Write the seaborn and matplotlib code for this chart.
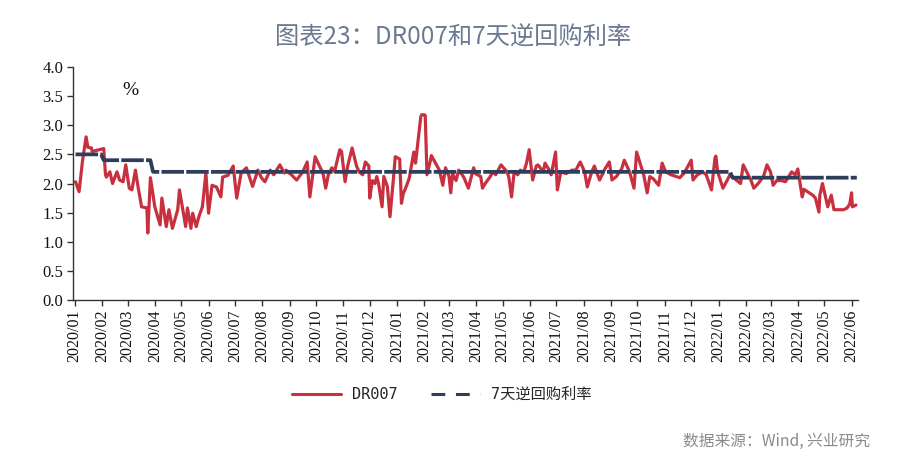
import numpy as np
import pandas as pd
import matplotlib
matplotlib.use("Agg")
import matplotlib.pyplot as plt
import matplotlib.dates as mdates
import seaborn as sns

# ---------------- data ----------------
dr_dates = [
    "2020-01-02", "2020-01-06", "2020-01-10", "2020-01-14", "2020-01-16", "2020-01-20", "2020-01-21",
    "2020-02-03", "2020-02-05", "2020-02-06", "2020-02-10", "2020-02-13", "2020-02-18", "2020-02-21",
    "2020-02-25", "2020-02-28", "2020-03-03", "2020-03-06", "2020-03-10", "2020-03-13", "2020-03-17",
    "2020-03-23", "2020-03-24", "2020-03-27", "2020-04-01", "2020-04-07", "2020-04-09", "2020-04-14",
    "2020-04-17", "2020-04-21", "2020-04-27", "2020-04-29", "2020-05-06", "2020-05-08", "2020-05-12",
    "2020-05-14", "2020-05-18", "2020-05-21", "2020-05-25", "2020-05-29", "2020-06-01", "2020-06-05",
    "2020-06-10", "2020-06-15", "2020-06-17", "2020-06-23", "2020-06-29", "2020-07-03", "2020-07-08",
    "2020-07-14", "2020-07-21", "2020-07-27", "2020-07-31", "2020-08-04", "2020-08-10", "2020-08-14",
    "2020-08-21", "2020-08-26", "2020-08-28", "2020-09-03", "2020-09-09", "2020-09-16", "2020-09-21",
    "2020-09-24", "2020-09-30", "2020-10-09", "2020-10-12", "2020-10-15", "2020-10-19", "2020-10-22",
    "2020-10-28", "2020-10-30", "2020-11-03", "2020-11-06", "2020-11-11", "2020-11-16", "2020-11-19",
    "2020-11-23", "2020-11-26", "2020-11-30", "2020-12-01", "2020-12-04", "2020-12-07", "2020-12-09",
    "2020-12-11", "2020-12-15", "2020-12-17", "2020-12-21", "2020-12-24", "2020-12-28", "2020-12-30",
    "2021-01-04", "2021-01-06", "2021-01-08", "2021-01-12", "2021-01-15", "2021-01-20", "2021-01-22",
    "2021-01-25", "2021-01-28", "2021-01-29", "2021-02-01", "2021-02-02", "2021-02-04", "2021-02-08",
    "2021-02-09", "2021-02-18", "2021-02-22", "2021-02-25", "2021-03-01", "2021-03-03", "2021-03-05",
    "2021-03-09", "2021-03-12", "2021-03-16", "2021-03-18", "2021-03-23", "2021-03-29", "2021-03-31",
    "2021-04-06", "2021-04-08", "2021-04-12", "2021-04-16", "2021-04-20", "2021-04-23", "2021-04-29",
    "2021-05-06", "2021-05-08", "2021-05-11", "2021-05-14", "2021-05-18", "2021-05-21", "2021-05-25",
    "2021-05-28", "2021-05-31", "2021-06-04", "2021-06-08", "2021-06-10", "2021-06-16", "2021-06-18",
    "2021-06-22", "2021-06-25", "2021-06-30", "2021-07-02", "2021-07-06", "2021-07-12", "2021-07-15",
    "2021-07-19", "2021-07-23", "2021-07-28", "2021-08-02", "2021-08-05", "2021-08-10", "2021-08-13",
    "2021-08-19", "2021-08-25", "2021-08-30", "2021-09-02", "2021-09-07", "2021-09-13", "2021-09-16",
    "2021-09-22", "2021-09-27", "2021-09-30", "2021-10-08", "2021-10-12", "2021-10-15", "2021-10-19",
    "2021-10-25", "2021-10-29", "2021-11-02", "2021-11-08", "2021-11-12", "2021-11-18", "2021-11-23",
    "2021-12-01", "2021-12-03", "2021-12-08", "2021-12-14", "2021-12-18", "2021-12-24", "2021-12-28",
    "2021-12-29", "2021-12-31", "2022-01-06", "2022-01-11", "2022-01-14", "2022-01-18", "2022-01-21",
    "2022-01-26", "2022-01-29", "2022-02-07", "2022-02-10", "2022-02-15", "2022-02-21", "2022-02-25",
    "2022-03-01", "2022-03-04", "2022-03-08", "2022-03-14", "2022-03-18", "2022-03-25", "2022-03-29",
    "2022-04-01", "2022-04-06", "2022-04-08", "2022-04-13", "2022-04-18", "2022-04-21", "2022-04-25",
    "2022-04-26", "2022-04-29", "2022-05-05", "2022-05-09", "2022-05-12", "2022-05-16", "2022-05-23",
    "2022-05-27", "2022-05-30", "2022-06-01", "2022-06-02", "2022-06-06",
]
dr007 = [
    2.03, 1.86, 2.40, 2.80, 2.62, 2.61, 2.55,
    2.60, 2.15, 2.11, 2.20, 2.00, 2.20, 2.06,
    2.03, 2.32, 1.92, 1.89, 2.23, 1.94, 1.60,
    1.58, 1.15, 2.10, 1.60, 1.29, 1.75, 1.26,
    1.55, 1.23, 1.55, 1.89, 1.26, 1.58, 1.23,
    1.49, 1.26, 1.43, 1.60, 2.18, 1.49, 1.97,
    1.94, 1.77, 2.11, 2.14, 2.30, 1.75, 2.18,
    2.27, 1.95, 2.23, 2.10, 2.03, 2.23, 2.15,
    2.32, 2.18, 2.23, 2.15, 2.06, 2.20, 2.37,
    1.77, 2.46, 2.17, 1.92, 2.15, 2.27, 2.20,
    2.58, 2.55, 2.03, 2.30, 2.61, 2.30, 2.20,
    2.15, 2.37, 2.30, 1.75, 2.05, 2.00, 2.12,
    2.00, 1.60, 2.12, 1.95, 1.43, 2.10, 2.46,
    2.42, 1.66, 1.82, 1.97, 2.10, 2.54, 2.35,
    2.75, 3.15, 3.18, 3.18, 3.17, 2.15, 2.40,
    2.48, 2.23, 1.97, 2.27, 2.12, 1.84, 2.17,
    2.05, 2.23, 2.15, 2.10, 1.92, 2.27, 2.17,
    2.12, 1.92, 2.02, 2.10, 2.20, 2.15, 2.32,
    2.20, 2.10, 1.77, 2.20, 2.15, 2.23, 2.20,
    2.35, 2.58, 2.06, 2.30, 2.32, 2.20, 2.35,
    2.25, 2.15, 2.54, 1.89, 2.20, 2.17, 2.20,
    2.23, 2.23, 2.37, 2.20, 1.94, 2.20, 2.30,
    2.06, 2.25, 2.37, 2.06, 2.12, 2.25, 2.40,
    2.20, 1.92, 2.54, 2.15, 1.84, 2.12, 2.08,
    1.97, 2.35, 2.20, 2.15, 2.13, 2.10, 2.18,
    2.40, 2.06, 2.15, 2.20, 2.15, 1.89, 2.44,
    2.47, 2.20, 1.92, 2.06, 2.15, 2.10, 2.06,
    2.00, 2.32, 2.05, 1.92, 2.00, 2.12, 2.32,
    2.20, 1.97, 2.05, 2.05, 2.03, 2.20, 2.15,
    2.25, 1.77, 1.90, 1.85, 1.80, 1.75, 1.51,
    1.80, 2.00, 1.60, 1.80, 1.55, 1.55, 1.55,
    1.58, 1.65, 1.84, 1.60, 1.63,
]

rr_change_dates = ["2020-01-02", "2020-02-03", "2020-03-30", "2022-01-17"]
rr_change_values = [2.50, 2.40, 2.20, 2.10]

ytick_values = [0.0, 0.5, 1.0, 1.5, 2.0, 2.5, 3.0, 3.5, 4.0]
title_text = "图表23：DR007和7天逆回购利率"
source_text = "数据来源：Wind, 兴业研究"
series_names = ["DR007", "7天逆回购利率"]

# ---------------- frames ----------------
df_dr = pd.DataFrame({"date": pd.to_datetime(dr_dates), "value": dr007})
bdays = pd.bdate_range("2020-01-02", "2022-06-07")
rr = pd.Series(rr_change_values, index=pd.to_datetime(rr_change_dates)).reindex(bdays, method="ffill")
df_rr = pd.DataFrame({"date": bdays, "value": rr.values})

# ---------------- style ----------------
sns.set_theme(style="ticks")
plt.rcParams["font.family"] = ["Noto Sans CJK SC", "DejaVu Sans"]

RED = "#C9303F"
NAVY = "#2E3D5A"

fig = plt.figure(figsize=(9, 4.62), dpi=100)
ax = fig.add_axes([0.081, 0.3506, 0.872, 0.5044])

sns.lineplot(data=df_dr, x="date", y="value", ax=ax, color=RED, linewidth=2.3,
             label=series_names[0])
sns.lineplot(data=df_rr, x="date", y="value", ax=ax, color=NAVY, linewidth=2.7,
             label=series_names[1])
ax.lines[1].set_dashes((6, 0.6))

ax.set_xlim(pd.Timestamp("2019-12-30"), pd.Timestamp("2022-06-08"))
ax.set_ylim(0, 4.0)
ax.set_yticks(ytick_values)
ax.set_yticklabels([f"{v:.1f}" for v in ytick_values],
                   fontfamily="Liberation Serif", fontsize=12)
ax.xaxis.set_major_locator(mdates.MonthLocator())
ax.xaxis.set_major_formatter(mdates.DateFormatter("%Y/%m"))
for lab in ax.get_xticklabels():
    lab.set_fontfamily("Liberation Serif")
    lab.set_fontsize(11.5)
    lab.set_rotation(90)
ax.set_xlabel("")
ax.set_ylabel("")

for s in ["top", "right"]:
    ax.spines[s].set_visible(False)
for s in ["left", "bottom"]:
    ax.spines[s].set_color("#333333")
    ax.spines[s].set_linewidth(1.0)
ax.tick_params(axis="both", direction="out", length=4, width=1.0, color="#333333",
               colors="#111111", pad=3)

ax.text(0.073, 0.9, "%", transform=ax.transAxes, fontsize=14,
        fontfamily="Liberation Serif", color="#111111", ha="center", va="center")

leg = ax.legend(loc="center", bbox_to_anchor=(0.47, -0.405), ncol=2, frameon=False,
                handlelength=3.2, columnspacing=2.2, handletextpad=0.7,
                prop={"family": ["DejaVu Sans Mono", "Noto Sans CJK SC"], "size": 11})
for line in leg.get_lines():
    line.set_linewidth(2.2)
leg.get_lines()[1].set_dashes((4.5, 3.5))

fig.text(0.503, 0.918, title_text, ha="center", va="center", fontsize=17.5,
         color="#6B7A92", fontweight="medium")
fig.text(0.967, 0.045, source_text, ha="right", va="center", fontsize=11.3,
         color="#8A8A8A")

fig.savefig("out.png", dpi=100)
